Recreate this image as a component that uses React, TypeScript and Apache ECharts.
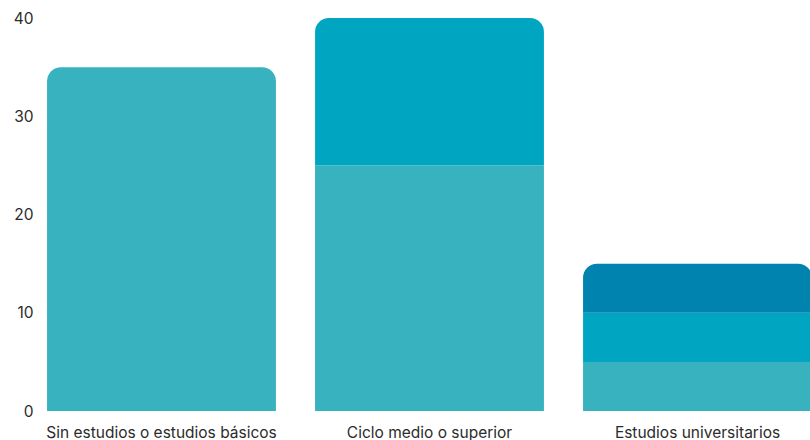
import React, { useEffect, useRef } from "react";
import * as echarts from "echarts";

const categories = ["Sin estudios o estudios básicos", "Ciclo medio o superior", "Estudios universitarios"];
const seriesLow = [35, 25, 5];
const seriesMid = [0, 15, 5];
const seriesHigh = [0, 0, 5];
const yTicks = [0, 10, 20, 30, 40];
const colors = ["#38b2bf", "#00a6c1", "#0083af"];

export default function App() {
  const ref = useRef<HTMLDivElement>(null);
  useEffect(() => {
    document.body.style.margin = "0";
    const chart = echarts.init(ref.current!, null, { renderer: "svg" });
    const all = [seriesLow, seriesMid, seriesHigh];
    const topIndex = categories.map((_, i) => {
      let t = 0;
      all.forEach((s, k) => { if (s[i] > 0) t = k; });
      return t;
    });
    const series = all.map((vals, k) => ({
      type: "bar",
      stack: "total",
      barWidth: "85.4%",
      data: vals.map((v, i) => ({
        value: v > 0 ? v : null,
        itemStyle: { color: colors[k], borderRadius: topIndex[i] === k ? [14, 14, 0, 0] : 0 },
      })),
    }));
    chart.setOption({
      animation: false,
      grid: { left: 27.5, top: 18, bottom: 29, right: -21.5, outerBoundsMode: "none", containLabel: false },
      xAxis: {
        type: "category",
        data: categories,
        axisLine: { show: false },
        axisTick: { show: false },
        axisLabel: { color: "#2b2b2b", fontSize: 15.5, fontFamily: "Inter", margin: 13, interval: 0 },
      },
      yAxis: {
        type: "value",
        min: yTicks[0],
        max: yTicks[yTicks.length - 1],
        interval: 10,
        offset: -14,
        splitLine: { show: false },
        axisLine: { show: false },
        axisTick: { show: false },
        axisLabel: { color: "#2b2b2b", fontSize: 15.5, fontFamily: "Inter", margin: 8 },
      },
      series,
    });
    return () => chart.dispose();
  }, []);
  return <div ref={ref} style={{ width: 810, height: 440 }} />;
}
